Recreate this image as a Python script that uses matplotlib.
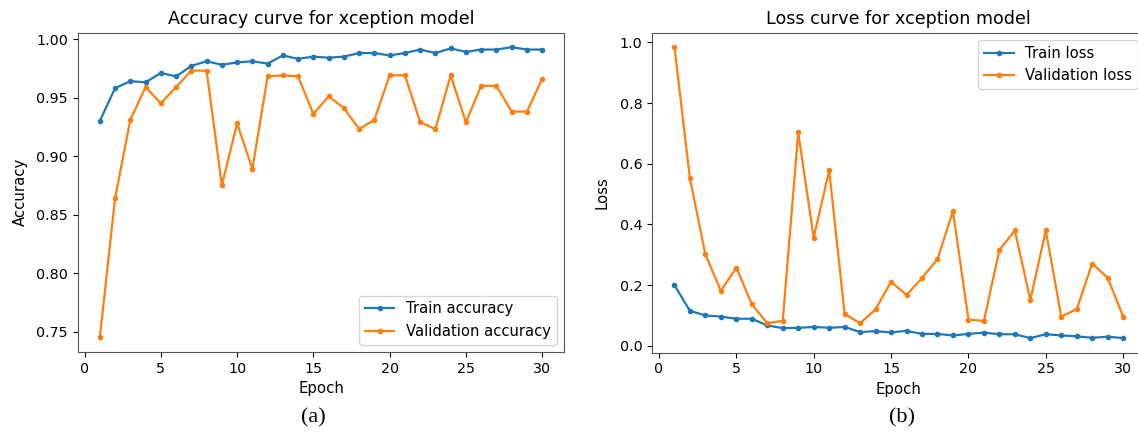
import matplotlib
matplotlib.use("Agg")
import matplotlib.pyplot as plt

epochs = list(range(1, 31))

train_acc = [0.930, 0.958, 0.964, 0.963, 0.971, 0.968, 0.977, 0.981, 0.978, 0.980,
             0.981, 0.979, 0.986, 0.983, 0.985, 0.984, 0.985, 0.988, 0.988, 0.986,
             0.988, 0.991, 0.988, 0.992, 0.989, 0.991, 0.991, 0.993, 0.991, 0.991]
val_acc = [0.745, 0.864, 0.931, 0.959, 0.945, 0.959, 0.973, 0.973, 0.875, 0.928,
           0.889, 0.968, 0.969, 0.968, 0.936, 0.951, 0.941, 0.923, 0.931, 0.969,
           0.969, 0.929, 0.923, 0.969, 0.929, 0.960, 0.960, 0.938, 0.938, 0.966]

train_loss = [0.200, 0.115, 0.100, 0.096, 0.089, 0.089, 0.067, 0.058, 0.059, 0.062,
              0.059, 0.062, 0.045, 0.048, 0.044, 0.049, 0.039, 0.039, 0.034, 0.039,
              0.043, 0.038, 0.038, 0.025, 0.038, 0.034, 0.031, 0.026, 0.030, 0.025]
val_loss = [0.984, 0.552, 0.301, 0.181, 0.257, 0.137, 0.074, 0.082, 0.703, 0.356,
            0.578, 0.105, 0.074, 0.120, 0.211, 0.167, 0.224, 0.285, 0.444, 0.086,
            0.082, 0.315, 0.380, 0.151, 0.380, 0.096, 0.121, 0.271, 0.224, 0.096]

W, H = 1138, 433
fig = plt.figure(figsize=(W / 100, H / 100), dpi=100)

ax1 = fig.add_axes([77.7 / W, 1 - 352 / H, 486.6 / W, (352 - 32.7) / H])
ax2 = fig.add_axes([652 / W, 1 - 352.7 / H, 493.6 / W, (352.7 - 32.7) / H])

for ax in (ax1, ax2):
    ax.tick_params(labelsize=10.3)
    for sp in ax.spines.values():
        sp.set_color('#555555')

ax1.plot(epochs, train_acc, marker='.', lw=1.6, label='Train accuracy')
ax1.plot(epochs, val_acc, marker='.', lw=1.6, label='Validation accuracy')
ax1.set_title('Accuracy curve for xception model', fontsize=12.6)
ax1.set_xlabel('Epoch', fontsize=10.7)
ax1.set_ylabel('Accuracy', fontsize=10.7, labelpad=6)
ax1.set_xticks([0, 5, 10, 15, 20, 25, 30])
ax1.set_yticks([0.75, 0.80, 0.85, 0.90, 0.95, 1.00])
ax1.legend(loc='lower right', fontsize=10.6)

ax2.plot(epochs, train_loss, marker='.', lw=1.6, label='Train loss')
ax2.plot(epochs, val_loss, marker='.', lw=1.6, label='Validation loss')
ax2.set_title('Loss curve for xception model', fontsize=12.6)
ax2.set_xlabel('Epoch', fontsize=10.7)
ax2.set_ylabel('Loss', fontsize=10.7, labelpad=7)
ax2.set_xticks([0, 5, 10, 15, 20, 25, 30])
ax2.set_yticks([0.0, 0.2, 0.4, 0.6, 0.8, 1.0])
ax2.legend(loc='upper right', fontsize=10.6)

fig.text(313 / W, 1 - 418 / H, '(a)', family='Liberation Serif', fontsize=16,
         ha='center', va='center')
fig.text(902 / W, 1 - 418 / H, '(b)', family='Liberation Serif', fontsize=16,
         ha='center', va='center')

fig.savefig('out.png', dpi=100)
